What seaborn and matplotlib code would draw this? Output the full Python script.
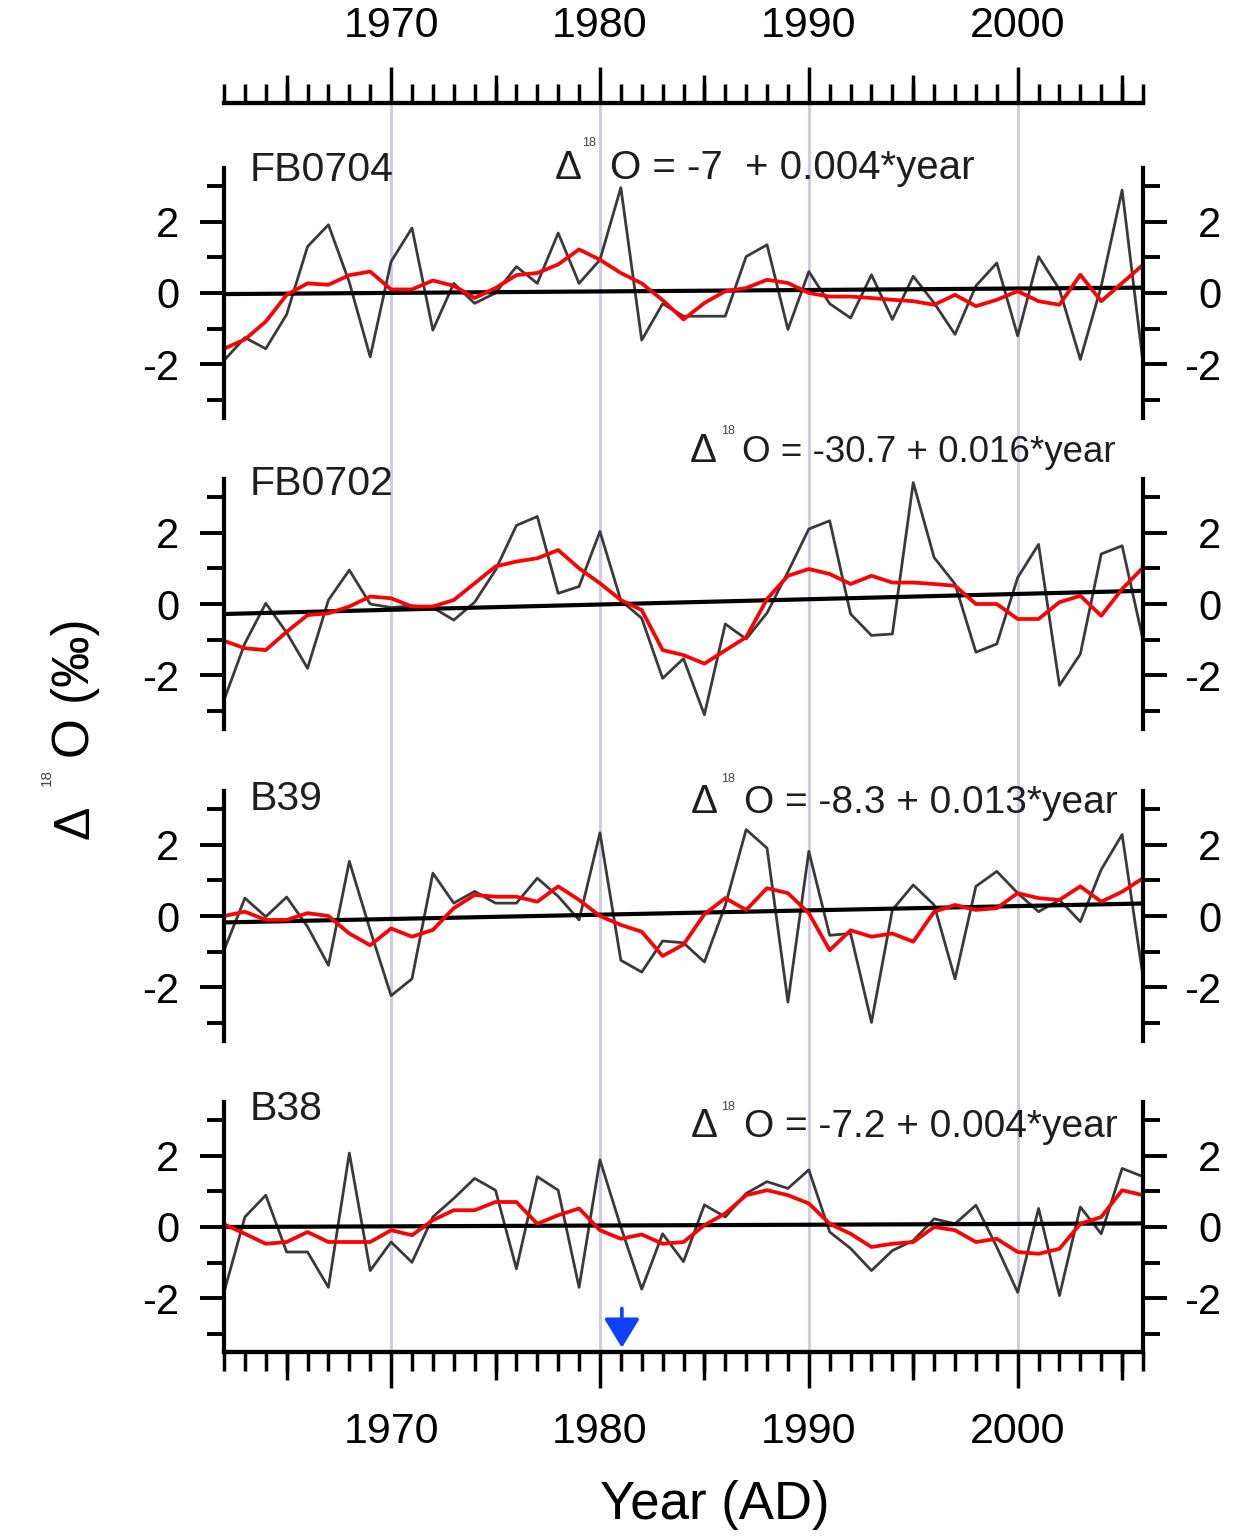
import numpy as np
import pandas as pd
import matplotlib
matplotlib.use("Agg")
import matplotlib.pyplot as plt
import matplotlib.transforms as mtransforms
import seaborn as sns


YEARS = list(range(1962, 2007))
DECADES = [1970, 1980, 1990, 2000]
HALF_DECADES = [1965, 1975, 1985, 1995, 2005]

# annual values (grey) and smoothed curve (red), 1962-2006
FB0704_RAW = [-1.89, -1.25, -1.56, -0.6, 1.3, 1.91, 0.3, -1.79, 0.88, 1.82,
              -1.04, 0.27, -0.29, 0.0, 0.74, 0.27, 1.68, 0.27, 0.93, 2.95,
              -1.32, -0.3, -0.65, -0.65, -0.65, 1.02, 1.35, -1.02, 0.6, -0.3,
              -0.7, 0.51, -0.74, 0.47, -0.28, -1.16, 0.2, 0.84, -1.2, 1.02,
              0.1, -1.86, 0.19, 2.88, -1.95]
FB0704_SMOOTH = [-1.56, -1.3, -0.8, -0.05, 0.27, 0.23, 0.5, 0.6, 0.1, 0.1,
                 0.35, 0.2, -0.14, 0.14, 0.5, 0.56, 0.8, 1.22, 0.93, 0.56,
                 0.27, -0.2, -0.74, -0.28, 0.05, 0.14, 0.37, 0.28, 0.0, -0.1,
                 -0.1, -0.14, -0.19, -0.23, -0.33, -0.05, -0.37, -0.19, 0.05, -0.23,
                 -0.33, 0.51, -0.23, 0.28, 0.79]
FB0704_TREND = [-0.03, 0.15]

FB0702_RAW = [-2.69, -1.1, 0.02, -0.8, -1.8, 0.11, 0.95, 0.0, -0.1, -0.05,
              -0.1, -0.45, 0.05, 0.95, 2.2, 2.45, 0.3, 0.49, 2.03, 0.1,
              -0.4, -2.08, -1.53, -3.1, -0.56, -0.98, -0.25, 0.9, 2.1, 2.33,
              -0.28, -0.88, -0.84, 3.4, 1.3, 0.56, -1.35, -1.12, 0.74, 1.67,
              -2.28, -1.4, 1.4, 1.63, -1.0]
FB0702_SMOOTH = [-1.03, -1.24, -1.29, -0.78, -0.31, -0.26, -0.07, 0.21, 0.16, -0.07,
                 -0.07, 0.11, 0.58, 1.05, 1.19, 1.28, 1.51, 1.0, 0.58, 0.11,
                 -0.17, -1.29, -1.43, -1.67, -1.3, -0.93, 0.14, 0.79, 0.98, 0.84,
                 0.56, 0.79, 0.6, 0.6, 0.56, 0.51, 0.0, 0.0, -0.42, -0.42,
                 0.05, 0.23, -0.33, 0.42, 1.02]
FB0702_TREND = [-0.28, 0.37]

B39_RAW = [-0.96, 0.5, -0.02, 0.53, -0.3, -1.38, 1.53, -0.4, -2.23, -1.76,
           1.2, 0.36, 0.69, 0.36, 0.36, 1.06, 0.55, -0.11, 2.33, -1.24,
           -1.57, -0.7, -0.75, -1.29, 0.3, 2.42, 1.9, -2.41, 1.81, -0.54,
           -0.49, -2.98, 0.17, 0.87, 0.31, -1.76, 0.83, 1.25, 0.64, 0.12,
           0.45, -0.16, 1.3, 2.28, -1.7]
B39_SMOOTH = [0.0, 0.12, -0.11, -0.11, 0.08, 0.0, -0.49, -0.82, -0.35, -0.58,
              -0.39, 0.22, 0.59, 0.54, 0.54, 0.4, 0.83, 0.45, 0.0, -0.25,
              -0.44, -1.12, -0.8, 0.05, 0.5, 0.17, 0.78, 0.64, 0.08, -0.96,
              -0.4, -0.58, -0.49, -0.72, 0.12, 0.31, 0.17, 0.22, 0.64, 0.5,
              0.45, 0.83, 0.4, 0.68, 1.06]
B39_TREND = [-0.18, 0.35]

B38_RAW = [-1.83, 0.28, 0.89, -0.7, -0.7, -1.69, 2.07, -1.22, -0.42, -0.99,
           0.28, 0.8, 1.36, 1.03, -1.17, 1.41, 1.03, -1.69, 1.88, 0.0,
           -1.74, -0.19, -0.97, 0.62, 0.28, 0.94, 1.27, 1.08, 1.6, -0.14,
           -0.6, -1.22, -0.66, -0.38, 0.23, 0.09, 0.61, -0.56, -1.83, 0.52,
           -1.92, 0.56, -0.19, 1.64, 1.41]
B38_SMOOTH = [0.08, -0.19, -0.47, -0.42, -0.14, -0.42, -0.42, -0.42, -0.09, -0.23,
              0.19, 0.47, 0.47, 0.7, 0.7, 0.09, 0.33, 0.52, -0.09, -0.33,
              -0.21, -0.47, -0.42, 0.05, 0.38, 0.89, 1.03, 0.89, 0.66, 0.09,
              -0.19, -0.56, -0.47, -0.42, 0.0, -0.09, -0.42, -0.33, -0.7, -0.75,
              -0.61, 0.09, 0.28, 1.03, 0.89]
B38_TREND = [0.0, 0.1]

CORES = ["FB0704", "FB0702", "B39", "B38"]
EQUATIONS = ["O = -7  + 0.004*year", "O = -30.7 + 0.016*year",
             "O = -8.3 + 0.013*year", "O = -7.2 + 0.004*year"]
ARROW_YEAR = 1981


#########################################
# layout helpers (pixel -> figure fraction)
#########################################
W, H = 1244, 1537
X0, X1 = 224, 1143
PANEL_H = 250


def fx(px):
    return px / W


def fy(py):
    return 1 - py / H


sns.set_style("white")
plt.rcParams["font.family"] = ["Liberation Sans", "DejaVu Sans"]
plt.rcParams["axes.unicode_minus"] = False
plt.rcParams["axes.edgecolor"] = "black"
plt.rcParams["xtick.color"] = "black"
plt.rcParams["ytick.color"] = "black"
plt.rcParams["text.color"] = "black"

fig = plt.figure(figsize=(W / 100, H / 100), dpi=100)
axw = (X1 - X0) / W

# faint decade guide lines behind everything
ax_bg = fig.add_axes([fx(X0), fy(1352), axw, (1352 - 104) / H])
ax_bg.set_xlim(1962, 2006)
ax_bg.axis("off")
for yr in DECADES:
    ax_bg.axvline(yr, color="#cdcde8", lw=2.2)

# top ruler
ax_top = fig.add_axes([fx(X0), fy(104), axw, 1 / H])
ax_top.patch.set_alpha(0)
ax_top.set_xlim(1962, 2006)
for s in ["left", "right", "bottom"]:
    ax_top.spines[s].set_visible(False)
ax_top.spines["top"].set_linewidth(3)
ax_top.set_yticks([])
ax_top.xaxis.tick_top()
ax_top.set_xticks(DECADES)
ax_top.set_xticklabels([str(d) for d in DECADES])
ax_top.set_xticks(YEARS, minor=True)
ax_top.tick_params(axis="x", which="major", direction="out", length=26, width=2.5,
                   pad=15, labelsize=31, top=True, bottom=False)
ax_top.tick_params(axis="x", which="minor", direction="out", length=14, width=2.5,
                   top=True, bottom=False)
sec_top = ax_top.secondary_xaxis("top")
sec_top.set_xticks(HALF_DECADES)
sec_top.tick_params(axis="x", length=20, width=2.5, labeltop=False, labelbottom=False)
sec_top.spines["top"].set_linewidth(3)

# panels
series = [(FB0704_RAW, FB0704_SMOOTH, FB0704_TREND),
          (FB0702_RAW, FB0702_SMOOTH, FB0702_TREND),
          (B39_RAW, B39_SMOOTH, B39_TREND),
          (B38_RAW, B38_SMOOTH, B38_TREND)]
panel_tops = [168, 479, 791, 1102]
name_base = [181, 495, 810, 1120]
eq_base = [179, 462, 813, 1137]
sup_base = [146, 434, 782, 1110]
eq_x = [(555, 582, 610), (690, 721, 742), (691, 721, 744), (691, 721, 744)]
eq_size = [29, 26.5, 28, 28]

for i, (raw, smooth, trend) in enumerate(series):
    top = panel_tops[i]
    ax = fig.add_axes([fx(X0), fy(top + PANEL_H), axw, PANEL_H / H])
    ax.patch.set_alpha(0)
    df = pd.DataFrame({"year": YEARS, "raw": raw, "smooth": smooth})
    sns.lineplot(data=df, x="year", y="raw", ax=ax, color="#3a3a3a", lw=2.0)
    sns.lineplot(x=[YEARS[0], YEARS[-1]], y=trend, ax=ax, color="black", lw=3)
    sns.lineplot(data=df, x="year", y="smooth", ax=ax, color="#ff0000", lw=2.7)
    ax.set_xlim(1962, 2006)
    ax.set_ylim(-3.5, 3.5)
    ax.set_xlabel("")
    ax.set_ylabel("")

    ax.spines["top"].set_visible(False)
    for s in ["left", "right", "bottom"]:
        ax.spines[s].set_linewidth(3)
    ax.set_yticks([-2, 0, 2])
    ax.set_yticklabels(["-2", "0", "2"])
    ax.set_yticks([-3, -1, 1, 3], minor=True)
    ax.tick_params(axis="y", which="major", direction="out", length=17, width=2.8,
                   left=True, right=True, labelleft=True, labelright=False,
                   labelsize=30, pad=15)
    ax.tick_params(axis="y", which="minor", direction="out", length=12, width=2.8,
                   left=True, right=True)

    # right-hand labels are right aligned
    trans = mtransforms.blended_transform_factory(ax.transAxes, ax.transData)
    for v in [-2, 0, 2]:
        ax.text(1 + 78 / (X1 - X0), v, str(v), transform=trans, ha="right",
                va="center_baseline", fontsize=30)

    if i < 3:
        ax.spines["bottom"].set_visible(False)
        ax.set_xticks([])
    else:
        ax.set_xticks(DECADES)
        ax.set_xticklabels([str(d) for d in DECADES])
        ax.set_xticks(YEARS, minor=True)
        ax.tick_params(axis="x", which="major", direction="out", length=26, width=2.5,
                       pad=17, labelsize=31, bottom=True)
        ax.tick_params(axis="x", which="minor", direction="out", length=14, width=2.5,
                       bottom=True)
        sec = ax.secondary_xaxis("bottom")
        sec.set_xticks(HALF_DECADES)
        sec.tick_params(axis="x", length=20, width=2.5, labelbottom=False)
        sec.spines["bottom"].set_linewidth(3)
        ax.annotate("", xy=(ARROW_YEAR + 0.05, -3.38), xytext=(ARROW_YEAR + 0.05, -2.28),
                    arrowprops=dict(arrowstyle="-|>,head_width=0.55,head_length=0.9",
                                    color="#1040ff", lw=2.6, shrinkA=0, shrinkB=0,
                                    mutation_scale=20),
                    annotation_clip=False)

    # core name and regression equation
    fig.text(fx(250), fy(name_base[i]), CORES[i], fontsize=29.5, ha="left",
             va="baseline", color="#1e1e1e")
    dx, sx, ox = eq_x[i]
    fig.text(fx(dx), fy(eq_base[i]), "Δ", fontsize=29, ha="left", va="baseline",
             color="#1e1e1e")
    fig.text(fx(sx), fy(sup_base[i]), "18", fontsize=9, ha="left", va="baseline",
             color="#444444")
    fig.text(fx(ox), fy(eq_base[i]), EQUATIONS[i], fontsize=eq_size[i], ha="left",
             va="baseline", color="#1e1e1e")

# y label pieces (rotated)
fig.text(fx(76), fy(822), "Δ", rotation=90, ha="center", va="center", fontsize=36)
fig.text(fx(47), fy(778), "18", rotation=90, ha="center", va="center", fontsize=11,
         color="#444444")
fig.text(fx(76), fy(688), "O (‰)", rotation=90, ha="center", va="center", fontsize=37)

fig.text(fx(715), fy(1505), "Year (AD)", ha="center", va="center", fontsize=38)

fig.savefig("out.png", dpi=100)
